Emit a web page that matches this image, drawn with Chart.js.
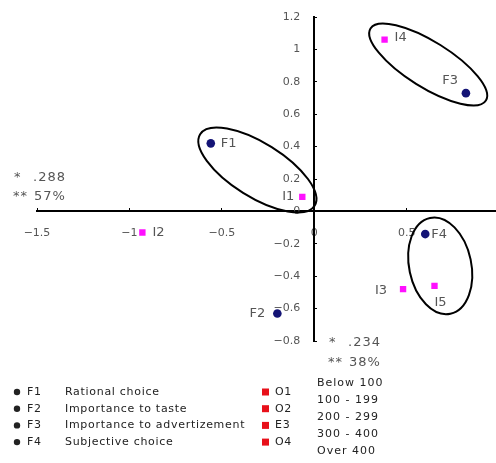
<!DOCTYPE html>
<html>
<head>
<meta charset="utf-8">
<script src="https://cdn.jsdelivr.net/npm/chart.js@4.4.1/dist/chart.umd.min.js"></script>
<style>
  body { margin: 0; background: #fff; overflow: hidden; }
  #chart { display: block; }
</style>
</head>
<body>
<canvas id="chart" width="500" height="463"></canvas>
<script>
// Factor points (blue circles)
const factorNames = ['F1', 'F2', 'F3', 'F4'];
const factorX = [-0.56, -0.2, 0.82, 0.6];
const factorY = [0.42, -0.63, 0.73, -0.14];

// Income points (magenta squares)
const incomeNames = ['I1', 'I2', 'I3', 'I4', 'I5'];
const incomeX = [-0.065, -0.93, 0.48, 0.38, 0.65];
const incomeY = [0.09, -0.13, -0.48, 1.06, -0.46];

// Cluster ellipses: centre, semi-axes (x units), tilt in degrees
const clusterX = [-0.308, 0.616, 0.681];
const clusterY = [0.256, 0.907, -0.336];
const clusterA = [0.365, 0.368, 0.265];
const clusterB = [0.146, 0.124, 0.168];
const clusterTilt = [32, 32, 78];

const xTicks = [-1.5, -1, -0.5, 0, 0.5];
const yTicks = [-0.8, -0.6, -0.4, -0.2, 0, 0.2, 0.4, 0.6, 0.8, 1, 1.2];

// Legend text
const legendCodes = ['F1', 'F2', 'F3', 'F4'];
const legendLabels = ['Rational choice', 'Importance to taste', 'Importance to advertizement', 'Subjective choice'];
const incomeCodes = ['O1', 'O2', 'E3', 'O4'];
const incomeRanges = ['Below 100', '100 - 199', '200 - 299', '300 - 400', 'Over 400'];

// label placement relative to the point (pixels)
const labelPos = {
    F1: [10, 0, 'left'], F2: [-12, 0, 'right'], F3: [-8, -13, 'right'], F4: [6, 1, 'left'],
    I1: [-8, 0, 'right'], I2: [10, 0, 'left'], I3: [-16, 1, 'right'], I4: [10, -2, 'left'], I5: [0, 17, 'left']
};

const fmt = v => String(v).replace('-', '\u2212');

const overlay = {
    id: 'overlay',
    beforeDatasetsDraw(chart) {
        const ctx = chart.ctx;
        const xs = chart.scales.x, ys = chart.scales.y;
        const ppu = xs.getPixelForValue(1) - xs.getPixelForValue(0);
        ctx.save();
        ctx.strokeStyle = '#000';
        ctx.lineWidth = 2;
        for (let i = 0; i < clusterX.length; i++) {
            ctx.beginPath();
            ctx.ellipse(xs.getPixelForValue(clusterX[i]), ys.getPixelForValue(clusterY[i]),
                clusterA[i] * ppu, clusterB[i] * ppu, clusterTilt[i] * Math.PI / 180, 0, Math.PI * 2);
            ctx.stroke();
        }
        ctx.restore();
    },
    afterDatasetsDraw(chart) {
        const ctx = chart.ctx;
        ctx.save();
        ctx.font = '13px "DejaVu Sans"';
        ctx.fillStyle = '#555';
        ctx.textBaseline = 'middle';
        chart.data.datasets.forEach((ds, di) => {
            chart.getDatasetMeta(di).data.forEach((pt, j) => {
                const name = ds.names[j];
                const p = labelPos[name];
                ctx.textAlign = p[2];
                ctx.fillText(name, pt.x + p[0], pt.y + p[1]);
            });
        });

        // fit statistics
        ctx.font = '13px "DejaVu Sans"';
        ctx.textAlign = 'left';
        ctx.fillStyle = '#555';
        ctx.letterSpacing = '1px';
        ctx.fillText('*', 14, 178);
        ctx.fillText('.288', 33, 178);
        ctx.fillText('**', 13, 197);
        ctx.fillText('57%', 34, 197);
        ctx.fillText('*', 329, 343);
        ctx.fillText('.234', 348, 343);
        ctx.fillText('**', 328, 363);
        ctx.fillText('38%', 349, 363);

        // legend
        ctx.font = '11px "DejaVu Sans"';
        ctx.letterSpacing = '0.7px';
        ctx.fillStyle = '#222';
        legendCodes.forEach((c, i) => {
            const y = 392 + i * 16.7;
            ctx.beginPath();
            ctx.arc(17, y, 3.2, 0, Math.PI * 2);
            ctx.fill();
            ctx.fillText(c, 27, y);
            ctx.fillText(legendLabels[i], 65, y);
        });
        incomeCodes.forEach((c, i) => {
            const y = 392 + i * 16.7;
            ctx.fillStyle = '#e8101a';
            ctx.fillRect(262, y - 3.5, 7, 7);
            ctx.fillStyle = '#222';
            ctx.fillText(c, 275, y);
        });
        ctx.letterSpacing = '1px';
        incomeRanges.forEach((r, i) => {
            ctx.fillText(r, 317, 383 + i * 17);
        });
        ctx.restore();
    }
};

new Chart(document.getElementById('chart'), {
    type: 'scatter',
    data: {
        datasets: [{
            names: factorNames,
            data: factorX.map((x, i) => ({ x: x, y: factorY[i] })),
            pointStyle: 'circle',
            radius: 4.3,
            backgroundColor: '#141476',
            borderColor: '#141476',
            borderWidth: 0
        }, {
            names: incomeNames,
            data: incomeX.map((x, i) => ({ x: x, y: incomeY[i] })),
            pointStyle: 'rect',
            radius: 4.5,
            backgroundColor: '#ff10ff',
            borderColor: '#ff10ff',
            borderWidth: 0
        }]
    },
    options: {
        responsive: false,
        devicePixelRatio: 1,
        animation: false,
        layout: { padding: { left: 37, top: 17, right: 0, bottom: 122 } },
        plugins: { legend: { display: false }, tooltip: { enabled: false } },
        scales: {
            x: {
                type: 'linear',
                min: -1.5,
                max: 0.98,
                position: { y: 0 },
                afterBuildTicks: s => { s.ticks = xTicks.map(v => ({ value: v })); },
                grid: { drawOnChartArea: false, color: '#000', tickLength: -4 },
                border: { color: '#000', width: 2 },
                ticks: { color: '#555', font: { family: 'DejaVu Sans', size: 11 }, padding: 19, callback: fmt }
            },
            y: {
                type: 'linear',
                min: -0.8,
                max: 1.2,
                position: { x: 0 },
                afterBuildTicks: s => { s.ticks = yTicks.map(v => ({ value: v })); },
                grid: { drawOnChartArea: false, color: '#000', tickLength: -4 },
                border: { color: '#000', width: 2 },
                // trailing spaces keep the right-aligned labels clear of the axis
                ticks: { color: '#555', font: { family: 'DejaVu Sans', size: 11 }, padding: 0, callback: v => fmt(v) + '    ' }
            }
        }
    },
    plugins: [overlay]
});
</script>
</body>
</html>
